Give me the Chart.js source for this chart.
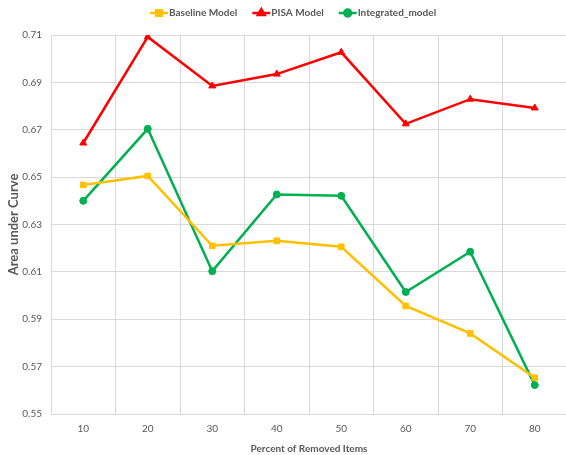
<!DOCTYPE html>
<html>
<head>
<meta charset="utf-8">
<script src="https://cdn.jsdelivr.net/npm/chart.js@4"></script>
<style>
  html, body { margin: 0; padding: 0; background: #fff; overflow: hidden; }
  #wrap { width: 572px; height: 455px; }
</style>
</head>
<body>
<div id="wrap"><canvas id="aucChart"></canvas></div>
<script>
const removedPct = ['10', '20', '30', '40', '50', '60', '70', '80'];
const baselineAuc = [0.6467, 0.6505, 0.6210, 0.6231, 0.6206, 0.5956, 0.5840, 0.5653];
const pisaAuc = [0.6644, 0.7092, 0.6885, 0.6935, 0.7027, 0.6725, 0.6829, 0.6792];
const integratedAuc = [0.6400, 0.6704, 0.6103, 0.6427, 0.6421, 0.6015, 0.6185, 0.5622];
const yTicks = [0.55, 0.57, 0.59, 0.61, 0.63, 0.65, 0.67, 0.69, 0.71];

const fontFamily = 'Lato, "Liberation Sans", sans-serif';
const textGrey = '#595959';
const gridGrey = '#D9D9D9';

// legend drawn by hand: Excel style line + marker
const lineLegend = {
    id: 'lineLegend',
    afterDraw(chart) {
        const ctx = chart.ctx;
        ctx.save();
        ctx.font = 'bold 10px ' + fontFamily;
        ctx.textBaseline = 'middle';
        let x = 150;
        const y = 13;
        chart.data.datasets.forEach(ds => {
            ctx.strokeStyle = ds.borderColor;
            ctx.lineWidth = 2.5;
            ctx.beginPath();
            ctx.moveTo(x, y);
            ctx.lineTo(x + 18, y);
            ctx.stroke();
            ctx.fillStyle = ds.borderColor;
            Chart.helpers.drawPoint(ctx, {
                pointStyle: ds.pointStyle,
                radius: ds.pointRadius,
                borderWidth: 1
            }, x + 9, y);
            ctx.fillStyle = textGrey;
            ctx.fillText(ds.label, x + 19, y);
            x += 19 + ctx.measureText(ds.label).width + 15;
        });
        ctx.restore();
    }
};

function makeSet(label, data, color, style, r) {
    return {
        label: label,
        data: data,
        borderColor: color,
        backgroundColor: color,
        borderWidth: 2.5,
        pointStyle: style,
        pointRadius: r,
        pointHoverRadius: r,
        pointBorderWidth: 1,
        tension: 0
    };
}

new Chart(document.getElementById('aucChart'), {
    type: 'line',
    data: {
        labels: removedPct,
        datasets: [
            makeSet('Baseline Model', baselineAuc, '#FFC000', 'rect', 4),
            makeSet('PISA Model', pisaAuc, '#FF0000', 'triangle', 4),
            makeSet('Integrated_model', integratedAuc, '#00B050', 'circle', 3.5)
        ]
    },
    options: {
        responsive: true,
        maintainAspectRatio: false,
        animation: false,
        layout: { padding: { top: 35, right: 0, left: 0, bottom: 0 } },
        plugins: {
            legend: { display: false },
            tooltip: { enabled: false }
        },
        scales: {
            x: {
                offset: true,
                grid: { offset: true, color: gridGrey, drawTicks: false },
                border: { color: gridGrey },
                ticks: { color: textGrey, font: { family: fontFamily, size: 10 }, padding: 9 },
                title: {
                    display: true,
                    text: 'Percent of Removed Items',
                    color: textGrey,
                    font: { family: fontFamily, size: 10, weight: 'bold' },
                    padding: { top: 0, bottom: 0 }
                },
                afterFit(scale) { scale.height = 41; }
            },
            y: {
                min: 0.55,
                max: 0.71,
                afterBuildTicks(scale) { scale.ticks = yTicks.map(v => ({ value: v })); },
                grid: { color: gridGrey, drawTicks: false },
                border: { color: gridGrey },
                ticks: {
                    color: textGrey,
                    font: { family: fontFamily, size: 10 },
                    padding: 9,
                    callback: v => v.toFixed(2)
                },
                title: {
                    display: true,
                    text: 'Area under Curve',
                    color: textGrey,
                    font: { family: fontFamily, size: 13, weight: 'bold' },
                    padding: { top: 6, bottom: 0 }
                },
                afterFit(scale) { scale.width = 51; }
            }
        }
    },
    plugins: [lineLegend]
});
</script>
</body>
</html>
